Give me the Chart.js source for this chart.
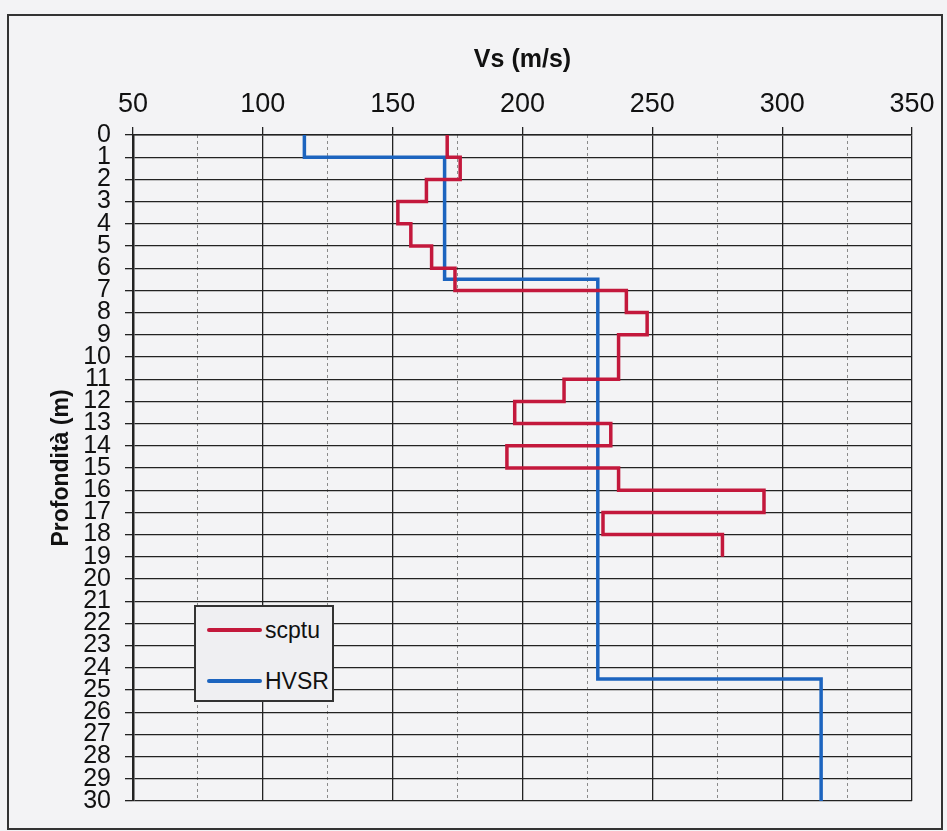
<!DOCTYPE html>
<html>
<head>
<meta charset="utf-8">
<script src="https://cdn.jsdelivr.net/npm/chart.js@4"></script>
<style>
body{margin:0;background:#f3f3f5;}
#wrap{position:relative;width:947px;height:831px;overflow:hidden;}
#frame{position:absolute;left:7px;top:14px;width:932px;height:812px;border:2px solid #333;pointer-events:none;}
#legend{position:absolute;left:194px;top:605px;width:136px;height:93px;border:2px solid #333;background:#efeff2;
font-family:"Liberation Sans Narrow","Liberation Sans",sans-serif;font-size:23px;color:#111;}
#legend .row{position:absolute;left:11px;height:30px;display:flex;align-items:center;}
#legend .sw{width:55px;height:4px;margin-right:3px;border-radius:2px;}
</style>
</head>
<body>
<div id="wrap">
<canvas id="c" width="947" height="831"></canvas>
<div id="frame"></div>
<div id="legend">
<div class="row" style="top:8px"><span class="sw" style="background:#c3183c"></span>scptu</div>
<div class="row" style="top:59px"><span class="sw" style="background:#1c64bf"></span>HVSR</div>
</div>
</div>
<script>
/* dati */
const depthTicks = [0,1,2,3,4,5,6,7,8,9,10,11,12,13,14,15,16,17,18,19,20,21,22,23,24,25,26,27,28,29,30];
const vsTicks = [50,100,150,200,250,300,350];

const scptuDepth = [0,1,2,3,4,5,6,7,8,9,11,12,13,14,15,16,17,18,19];
const scptuVs = [171,176,163,152,157,165,174,240,248,237,216,197,234,194,237,293,231,277,277];

const hvsrDepth = [0,1,6.5,24.5,30];
const hvsrVs = [116,170,229,315,315];

const font = "'Liberation Sans Narrow','Liberation Sans',sans-serif";

function pts(vs, d){
return vs.map((v,i)=>({x:v,y:d[i]}));
}

new Chart(document.getElementById("c"),{
type:"line",
data:{
datasets:[
{label:"scptu",data:pts(scptuVs,scptuDepth),borderColor:"#c3183c",borderWidth:3.5,stepped:"after",pointRadius:0,fill:false},
{label:"HVSR",data:pts(hvsrVs,hvsrDepth),borderColor:"#1c64bf",borderWidth:3.5,stepped:"after",pointRadius:0,fill:false}
]
},
options:{
responsive:false,
animation:false,
devicePixelRatio:1,
layout:{padding:{left:0,top:0,right:35,bottom:30}},
plugins:{legend:{display:false},tooltip:{enabled:false}},
scales:{
x:{
type:"linear",position:"top",min:vsTicks[0],max:vsTicks[vsTicks.length-1],
afterBuildTicks:s=>{s.ticks=vsTicks.map(v=>({value:v}));},
afterFit:s=>{s.height=135;},
ticks:{font:{family:font,size:27},color:"#111",padding:6,maxRotation:0},
grid:{color:"#222",lineWidth:1.3,tickLength:8,tickColor:"#222"},
border:{color:"#222",width:1.5},
title:{display:true,text:"Vs (m/s)",font:{family:font,size:25,weight:"bold"},color:"#111",padding:{top:45}}
},
x2:{
type:"linear",position:"top",min:50,max:350,
ticks:{display:false,stepSize:25},
afterFit:s=>{s.height=0;},
grid:{drawTicks:false,color:c=>c.tick && c.tick.value%50===0?"rgba(0,0,0,0)":"#8a8a8a",lineWidth:1},
border:{display:false,dash:[3,3]}
},
y:{
type:"linear",reverse:true,min:0,max:30,
afterBuildTicks:s=>{s.ticks=depthTicks.map(v=>({value:v}));},
afterFit:s=>{s.width=133;},
ticks:{font:{family:font,size:25},color:"#111",padding:14,autoSkip:false,lineHeight:1},
grid:{color:"#222",lineWidth:1.3,tickLength:8,tickColor:"#222"},
border:{color:"#222",width:2.5},
title:{display:true,text:"Profondità (m)",font:{family:font,size:23,weight:"bold"},color:"#111",padding:{top:48}}
}
}
}
});
</script>
</body>
</html>
